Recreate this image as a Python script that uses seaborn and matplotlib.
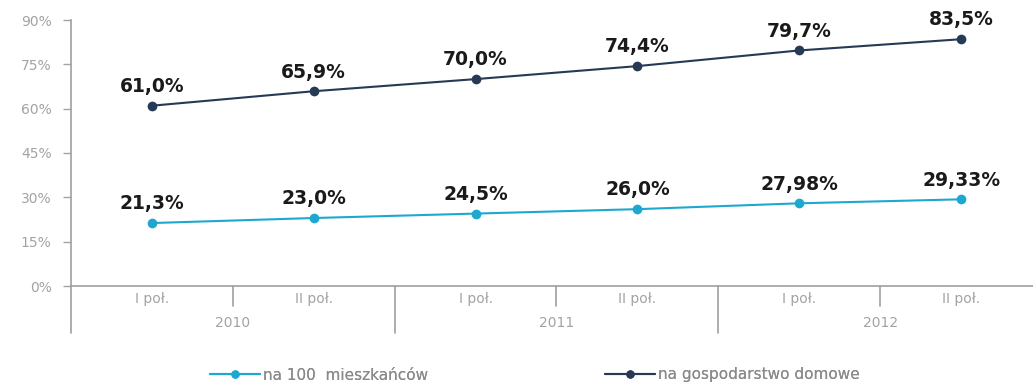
import matplotlib
matplotlib.use("Agg")
import matplotlib.pyplot as plt
import seaborn as sns
import pandas as pd
from matplotlib.lines import Line2D

periods = ["I poł.", "II poł.", "I poł.", "II poł.", "I poł.", "II poł."]
years = ["2010", "2011", "2012"]
per_100 = [21.3, 23.0, 24.5, 26.0, 27.98, 29.33]
per_household = [61.0, 65.9, 70.0, 74.4, 79.7, 83.5]
labels_100 = ["21,3%", "23,0%", "24,5%", "26,0%", "27,98%", "29,33%"]
labels_household = ["61,0%", "65,9%", "70,0%", "74,4%", "79,7%", "83,5%"]
series_names = ["na 100  mieszkańców", "na gospodarstwo domowe"]
colors = ["#1fa8cf", "#263a55"]

sns.set_theme(style="white")
plt.rcParams["font.family"] = ["DejaVu Sans"]

idx = list(range(len(periods)))
df = pd.DataFrame({
    "x": idx * 2,
    "y": per_100 + per_household,
    "series": [series_names[0]] * 6 + [series_names[1]] * 6,
})

W, H = 1033, 383
fig = plt.figure(figsize=(W / 100, H / 100), dpi=100)
left_px, right_px, top_px, bottom_px = 71, 1042, 20, 286
ax = fig.add_axes([left_px / W, 1 - bottom_px / H,
                   (right_px - left_px) / W, (bottom_px - top_px) / H])

sns.lineplot(data=df, x="x", y="y", hue="series", palette=colors,
             marker="o", markersize=7, markeredgewidth=0, linewidth=1.5,
             legend=False, ax=ax)

grey = "#a3a3a3"
ax.set_xlim(-0.5, 5.5)
ax.set_ylim(0, 90)
ax.set_yticks(range(0, 91, 15))
ax.set_yticklabels([f"{v}%" for v in range(0, 91, 15)])
ax.tick_params(axis="y", colors=grey, labelsize=10, length=6,
               width=1, direction="out", pad=8, left=True)
ax.set_xticks([])
ax.set_xlabel("")
ax.set_ylabel("")

for s in ["top", "right"]:
    ax.spines[s].set_visible(False)
for s in ["left", "bottom"]:
    ax.spines[s].set_color("#a0a0a0")
    ax.spines[s].set_linewidth(1.2)

for vals, labs in [(per_100, labels_100), (per_household, labels_household)]:
    for i, (v, t) in enumerate(zip(vals, labs)):
        ax.annotate(t, (i, v), xytext=(0, 7), textcoords="offset points",
                    ha="center", va="bottom", fontsize=13.5,
                    fontweight="bold", color="#1a1a1a")

# category axis: half-year labels, year labels and separators
trans = ax.get_xaxis_transform()
px = 1 / (bottom_px - top_px)
for i, p in enumerate(periods):
    ax.text(i, -13 * px, p, transform=trans, ha="center", va="center",
            fontsize=10, color=grey, clip_on=False)
for k, y in enumerate(years):
    ax.text(2 * k + 0.5, -37 * px, y, transform=trans, ha="center",
            va="center", fontsize=10, color=grey, clip_on=False)
for b in [0.5, 1.5, 2.5, 3.5, 4.5]:
    depth = 20 if b in (0.5, 2.5, 4.5) else 47
    ax.plot([b, b], [0, -depth * px], transform=trans, color="#a0a0a0",
            lw=1.2, clip_on=False)
ax.plot([-0.5, -0.5], [0, -47 * px], transform=trans, color="#a0a0a0",
        lw=1.2, clip_on=False)

# legend entries placed individually under the chart
legend_x = [210, 605]
for c, name, lx in zip(colors, series_names, legend_x):
    h = Line2D([0], [0], color=c, lw=1.5, marker="o", markersize=6,
               markeredgewidth=0)
    leg = fig.legend([h], [name], loc="center left",
                     bbox_to_anchor=(lx / W, 1 - 375 / H), frameon=False,
                     fontsize=11, labelcolor="#8a8a8a", handlelength=3.3,
                     handletextpad=0.2, borderpad=0, borderaxespad=0)
    fig.add_artist(leg)

fig.savefig("out.png", dpi=100, facecolor="white")
